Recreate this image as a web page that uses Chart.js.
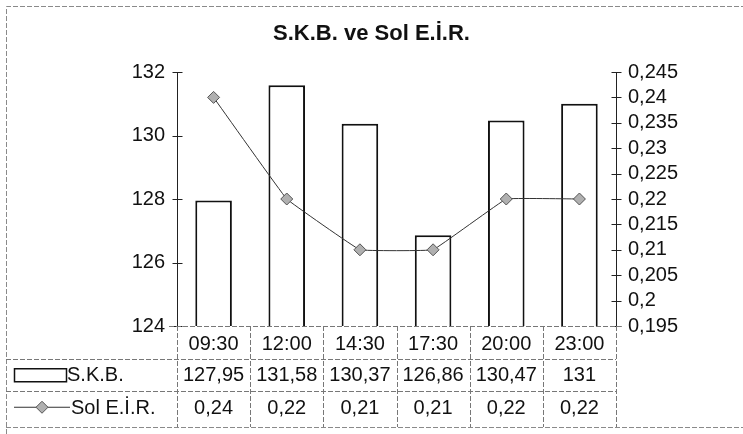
<!DOCTYPE html>
<html>
<head>
<meta charset="utf-8">
<script src="https://cdn.jsdelivr.net/npm/chart.js@4"></script>
<style>
  html, body { margin: 0; padding: 0; background: #fff; }
  #wrap { width: 743px; height: 434px; }
</style>
</head>
<body>
<div id="wrap"><canvas id="chart" width="743" height="434"></canvas></div>
<script>
// ── Data ──
const times = ['09:30', '12:00', '14:30', '17:30', '20:00', '23:00'];
const skbValues = [127.95, 131.58, 130.37, 126.86, 130.47, 131];
const solValues = [0.24, 0.22, 0.21, 0.21, 0.22, 0.22];
const titleText = 'S.K.B. ve Sol E.İ.R.';
const skbLabel = 'S.K.B.';
const solLabel = 'Sol E.İ.R.';

const FONT = '"Liberation Sans", Arial, sans-serif';
const FS = 20;
const comma = v => String(Number(Number(v).toFixed(3))).replace('.', ',');

// ── Plugins ──

// crossing tick marks + axis lines (Excel style)
const axisCross = {
  id: 'axisCross',
  afterDatasetsDraw(chart) {
    const { ctx, chartArea } = chart;
    ctx.save();
    ctx.strokeStyle = '#222';
    ctx.lineWidth = 1;
    for (const id of ['y', 'y1']) {
      const sc = chart.scales[id];
      const x = id === 'y' ? chartArea.left + 0.5 : chartArea.right + 0.5;
      ctx.beginPath();
      ctx.moveTo(x, chartArea.top);
      ctx.lineTo(x, chartArea.bottom);
      sc.ticks.forEach((t, i) => {
        const y = Math.round(sc.getPixelForTick(i)) + 0.5;
        ctx.moveTo(x - 5, y);
        ctx.lineTo(x + 5, y);
      });
      ctx.stroke();
    }
    ctx.restore();
  }
};

// data table under the plot
const dataTable = {
  id: 'dataTable',
  afterDraw(chart) {
    const { ctx, chartArea } = chart;
    const xs = chart.scales.x;
    const top = chartArea.bottom;
    const rowH = 32.5;
    const r1 = top + rowH, r2 = top + rowH * 2, r3 = top + rowH * 3;
    const left = chartArea.left, right = chartArea.right;
    const edges = [left];
    for (let i = 0; i < times.length - 1; i++) {
      edges.push((xs.getPixelForValue(i) + xs.getPixelForValue(i + 1)) / 2);
    }
    edges.push(right);

    ctx.save();
    // outer border
    ctx.strokeStyle = '#8a8a8a';
    ctx.lineWidth = 1;
    ctx.setLineDash([5, 2]);
    ctx.beginPath();
    ctx.moveTo(6.5, 434);
    ctx.lineTo(6.5, 6.5);
    ctx.lineTo(743, 6.5);
    ctx.moveTo(6, 427.5);
    ctx.lineTo(743, 427.5);
    ctx.stroke();

    // table lines
    ctx.strokeStyle = '#777';
    ctx.beginPath();
    ctx.moveTo(left - 8, Math.round(top) + 0.5);
    ctx.lineTo(right + 5, Math.round(top) + 0.5);
    for (const y of [r1, r2]) {
      ctx.moveTo(6, Math.round(y) + 0.5);
      ctx.lineTo(right, Math.round(y) + 0.5);
    }
    edges.forEach(x => {
      ctx.moveTo(Math.round(x) + 0.5, top);
      ctx.lineTo(Math.round(x) + 0.5, 427);
    });
    ctx.stroke();
    ctx.setLineDash([]);

    // values
    ctx.fillStyle = '#111';
    ctx.font = FS + 'px ' + FONT;
    ctx.textAlign = 'center';
    ctx.textBaseline = 'middle';
    times.forEach((t, i) => {
      const cx = xs.getPixelForValue(i);
      ctx.fillText(comma(skbValues[i]), cx, (r1 + r2) / 2 + 1);
      ctx.fillText(comma(solValues[i]), cx, (r2 + r3) / 2 + 1);
    });

    // legend keys
    ctx.textAlign = 'left';
    ctx.strokeStyle = '#111';
    ctx.lineWidth = 1.5;
    ctx.fillStyle = '#fff';
    const ky = (r1 + r2) / 2;
    ctx.fillRect(14, ky - 6, 52, 13);
    ctx.strokeRect(14.5, ky - 6, 52, 13);
    ctx.fillStyle = '#111';
    ctx.fillText(skbLabel, 67, ky + 1);

    const ly = (r2 + r3) / 2;
    ctx.strokeStyle = '#333';
    ctx.lineWidth = 1;
    ctx.beginPath();
    ctx.moveTo(14, ly);
    ctx.lineTo(70, ly);
    ctx.stroke();
    ctx.beginPath();
    ctx.moveTo(42, ly - 6);
    ctx.lineTo(48, ly);
    ctx.lineTo(42, ly + 6);
    ctx.lineTo(36, ly);
    ctx.closePath();
    ctx.fillStyle = '#b0b0b0';
    ctx.fill();
    ctx.strokeStyle = '#555';
    ctx.stroke();
    ctx.fillStyle = '#111';
    ctx.fillText(solLabel, 71, ly + 1);
    ctx.restore();
  }
};

// ── Chart ──
new Chart(document.getElementById('chart'), {
  type: 'bar',
  data: {
    labels: times,
    datasets: [
      {
        type: 'line',
        label: solLabel,
        data: solValues,
        yAxisID: 'y1',
        order: 0,
        borderColor: '#333',
        borderWidth: 1,
        tension: 0.05,
        pointStyle: 'rectRot',
        pointRadius: 6,
        pointBackgroundColor: '#b0b0b0',
        pointBorderColor: '#555',
        pointBorderWidth: 1,
      },
      {
        type: 'bar',
        label: skbLabel,
        data: skbValues,
        yAxisID: 'y',
        order: 1,
        backgroundColor: '#fff',
        borderColor: '#111',
        borderWidth: 2,
        categoryPercentage: 1,
        barPercentage: 0.5,
      },
    ],
  },
  options: {
    responsive: false,
    animation: false,
    layout: { padding: { left: 0, right: 0, top: 0, bottom: 76 } },
    plugins: {
      legend: { display: false },
      tooltip: { enabled: false },
      title: {
        display: true,
        text: titleText,
        color: '#111',
        font: { family: FONT, size: 22, weight: 'bold' },
        padding: { top: 21, bottom: 24.6 },
      },
    },
    scales: {
      x: {
        offset: true,
        grid: { display: false, drawTicks: false },
        border: { display: false },
        ticks: { color: '#111', padding: 6, autoSkip: false, maxRotation: 0, font: { family: FONT, size: FS } },
        afterFit: s => { s.height = 32; },
      },
      y: {
        position: 'left',
        min: 124,
        max: 132,
        grid: { display: false, drawTicks: false },
        border: { display: false },
        ticks: { stepSize: 2, color: '#111', padding: 12, font: { family: FONT, size: FS } },
        afterFit: s => { s.width = 177; },
      },
      y1: {
        position: 'right',
        min: 0.195,
        max: 0.245,
        grid: { display: false, drawTicks: false },
        border: { display: false },
        ticks: {
          stepSize: 0.005,
          autoSkip: false,
          color: '#111',
          padding: 12,
          font: { family: FONT, size: FS },
          callback: v => comma(v),
        },
        afterFit: s => { s.width = 127; },
      },
    },
  },
  plugins: [axisCross, dataTable],
});
</script>
</body>
</html>
